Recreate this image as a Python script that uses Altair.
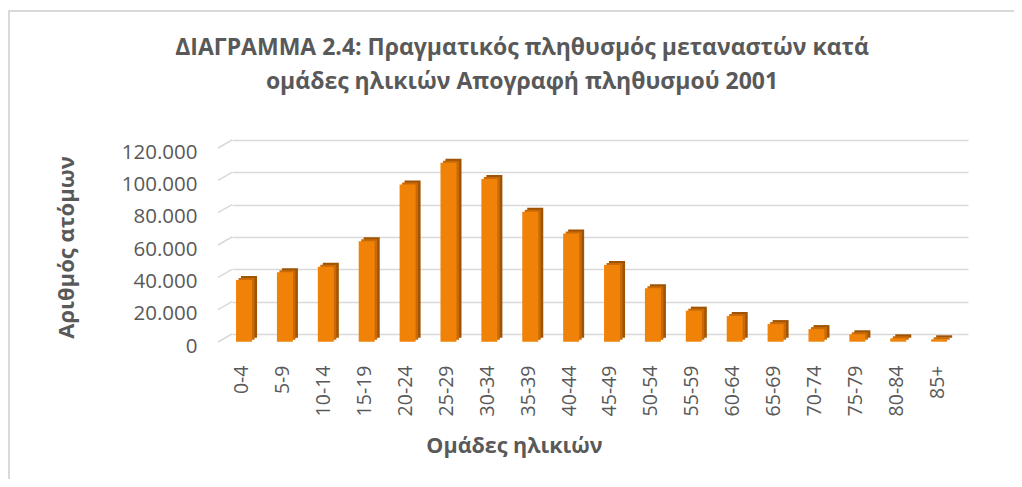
import altair as alt
import pandas as pd

age_groups = ["0-4", "5-9", "10-14", "15-19", "20-24", "25-29", "30-34", "35-39",
              "40-44", "45-49", "50-54", "55-59", "60-64", "65-69", "70-74",
              "75-79", "80-84", "85+"]
population = [38100, 42900, 46400, 62200, 97300, 110700, 100600, 80400,
              67000, 47400, 33000, 19200, 15900, 10900, 7800, 4600, 2100, 1500]
y_ticks = [0, 20000, 40000, 60000, 80000, 100000, 120000]

title_lines = ["ΔΙΑΓΡΑΜΜΑ 2.4: Πραγματικός πληθυσμός μεταναστών κατά",
               "ομάδες ηλικιών Απογραφή πληθυσμού 2001"]
y_title = "Αριθμός ατόμων"
x_title = "Ομάδες ηλικιών"

FONT = "Open Sans"
TEXT = "#595959"
GRID = "#d9d9d9"
FRONT = "#F08208"
TOP = "#C96A06"
SIDE = "#9E5404"

df = pd.DataFrame({"age": age_groups, "pop": population})
ticks_df = pd.DataFrame({"tick": y_ticks})
frame_df = pd.DataFrame({"k": [0]})

yscale = alt.Scale(domain=[0, 120000], nice=False)
xscale = alt.Scale(paddingInner=0, paddingOuter=0)

x_axis = alt.Axis(
    title=x_title, labelAngle=-90, labelPadding=31, labelOffset=-10,
    labelFontSize=19.5, labelColor=TEXT, labelFont=FONT,
    domain=False, ticks=False,
    titleFontSize=21.5, titleFontWeight="bold", titleColor=TEXT, titleFont=FONT,
    titleX=282, titleY=112, titleAlign="center", titleBaseline="middle",
)
y_axis = alt.Axis(
    title=y_title, values=y_ticks,
    labelExpr="replace(format(datum.value, ','), ',', '.')",
    labelFontSize=20.5, labelColor=TEXT, labelFont=FONT, labelPadding=35, labelOffset=12,
    domain=False, ticks=False, grid=True, gridColor=GRID, gridWidth=1.5,
    titleFontSize=22, titleFontWeight="bold", titleColor=TEXT, titleFont=FONT,
    titleX=-166, titleY=107, titleAlign="center", titleBaseline="middle",
)

base = alt.Chart(df)


def face(color, dx, dy):
    return base.mark_bar(
        width=16, color=color,
        xOffset=-8.4 + dx, x2Offset=-8.4 + dx,
        yOffset=7.7 + dy, y2Offset=7.7 + dy,
    ).encode(
        x=alt.X("age:N", sort=age_groups, scale=xscale, axis=x_axis),
        y=alt.Y("pop:Q", scale=yscale, axis=y_axis),
    )


side = face(SIDE, 5, -4)
top = face(TOP, 2.5, -2)
front = face(FRONT, 0, 0)

diag = alt.Chart(ticks_df).mark_rule(color=GRID, strokeWidth=1.5, yOffset=8).encode(
    x=alt.value(-14), x2=alt.value(0),
    y=alt.Y("tick:Q", scale=yscale, axis=y_axis),
    y2=alt.Y2("tick"),
)

frame = alt.Chart(frame_df).mark_rect(fill=None, stroke=GRID, strokeWidth=2).encode(
    x=alt.value(-223), x2=alt.value(900),
    y=alt.value(-129), y2=alt.value(400),
)

chart = alt.layer(frame, diag, side, top, front).properties(
    width=736, height=194,
    autosize=alt.AutoSizeParams(type="none"),
    padding={"left": 224, "top": 132, "right": 46, "bottom": 145},
    background="white",
    title=alt.TitleParams(
        text=title_lines, font=FONT, fontSize=23, fontWeight="bold",
        color=TEXT, anchor="middle", frame="group", dx=-78, offset=-84,
        lineHeight=34,
    ),
).configure_view(stroke=None)

chart.save("out.html", embed_options={"renderer": "svg", "actions": False})
